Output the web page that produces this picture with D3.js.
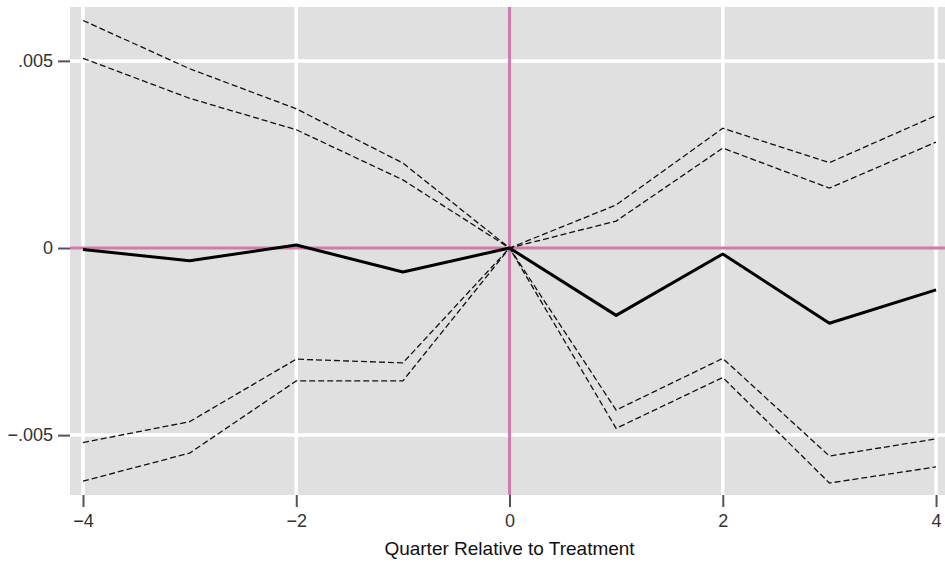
<!DOCTYPE html>
<html>
<head>
<meta charset="utf-8">
<script src="https://cdn.jsdelivr.net/npm/d3@7"></script>
<style>
    body { margin: 0; background: #fff; }
    svg { display: block; font-family: "Liberation Sans", Arial, sans-serif; }
</style>
</head>
<body>
<div id="chart"></div>
<script>
// Quarters relative to treatment
const quarters = [-4, -3, -2, -1, 0, 1, 2, 3, 4];

// Point estimate
const estimate = [-0.00004, -0.00034, 0.00008, -0.00064, 0, -0.0018, -0.00016, -0.00201, -0.00112];

// Confidence bands (outer and inner)
const upperOuter = [0.00608, 0.00479, 0.00372, 0.00227, 0, 0.00115, 0.0032, 0.00228, 0.00354];
const upperInner = [0.00507, 0.0040, 0.00316, 0.00182, 0, 0.00072, 0.00267, 0.0016, 0.00283];
const lowerInner = [-0.0052, -0.00464, -0.00297, -0.00307, 0, -0.00433, -0.00295, -0.00556, -0.0051];
const lowerOuter = [-0.00623, -0.00548, -0.00355, -0.00355, 0, -0.00482, -0.00346, -0.00628, -0.00585];

// Axis ticks
const xTicks = [-4, -2, 0, 2, 4];
const yTicks = [-0.005, 0, 0.005];
const yTickLabels = ['\u2212.005', '0', '.005'];

const width = 945;
const height = 563;
const margin = { top: 7, right: 0, bottom: 68, left: 70 };

const svg = d3.select('#chart')
    .append('svg')
    .attr('width', width)
    .attr('height', height);

const x = d3.scaleLinear()
    .domain([-4.122, 4.084])
    .range([margin.left, width - margin.right]);

const y = d3.scaleLinear()
    .domain([-0.0066, 0.00644])
    .range([height - margin.bottom, margin.top]);

// Plot background
svg.append('rect')
    .attr('x', margin.left)
    .attr('y', margin.top)
    .attr('width', width - margin.left - margin.right)
    .attr('height', height - margin.top - margin.bottom)
    .attr('fill', '#e0e0e0');

// Grid lines
const grid = svg.append('g')
    .attr('stroke', '#fff')
    .attr('stroke-width', 3.5);

grid.selectAll('.vgrid')
    .data(xTicks.filter(d => d !== 0))
    .join('line')
    .attr('x1', d => x(d))
    .attr('x2', d => x(d))
    .attr('y1', margin.top)
    .attr('y2', height - margin.bottom);

grid.selectAll('.hgrid')
    .data(yTicks.filter(d => d !== 0))
    .join('line')
    .attr('x1', margin.left)
    .attr('x2', width - margin.right)
    .attr('y1', d => y(d))
    .attr('y2', d => y(d));

// Zero reference lines
svg.append('line')
    .attr('x1', x(0)).attr('x2', x(0))
    .attr('y1', margin.top).attr('y2', height - margin.bottom)
    .attr('stroke', '#cf7aab')
    .attr('stroke-width', 3);

svg.append('line')
    .attr('x1', margin.left).attr('x2', width - margin.right)
    .attr('y1', y(0)).attr('y2', y(0))
    .attr('stroke', '#cf7aab')
    .attr('stroke-width', 3);

// Axes
const xAxis = svg.append('g')
    .attr('transform', `translate(0,${height - margin.bottom})`)
    .call(d3.axisBottom(x)
        .tickValues(xTicks)
        .tickSize(12)
        .tickPadding(7)
        .tickFormat(d => d < 0 ? '\u2212' + Math.abs(d) : d));

const yAxis = svg.append('g')
    .attr('transform', `translate(${margin.left},0)`)
    .call(d3.axisLeft(y)
        .tickValues(yTicks)
        .tickSize(12)
        .tickPadding(5)
        .tickFormat((d, i) => yTickLabels[i]));

[xAxis, yAxis].forEach(ax => {
    ax.select('.domain').remove();
    ax.selectAll('.tick line').attr('stroke', '#555').attr('stroke-width', 2);
    ax.selectAll('.tick text')
        .attr('fill', '#333')
        .style('font-size', '18px')
        .style('font-family', '"Liberation Sans", Arial, sans-serif');
});

// Axis title
svg.append('text')
    .attr('x', x(0))
    .attr('y', 555)
    .attr('text-anchor', 'middle')
    .attr('fill', '#111')
    .style('font-size', '19px')
    .text('Quarter Relative to Treatment');

// Series lines
const line = d3.line()
    .x((d, i) => x(quarters[i]))
    .y(d => y(d));

const bands = [upperOuter, upperInner, lowerInner, lowerOuter];

svg.append('g')
    .selectAll('path')
    .data(bands)
    .join('path')
    .attr('d', line)
    .attr('fill', 'none')
    .attr('stroke', '#111')
    .attr('stroke-width', 1.3)
    .attr('stroke-dasharray', '6,3');

svg.append('path')
    .datum(estimate)
    .attr('d', line)
    .attr('fill', 'none')
    .attr('stroke', '#000')
    .attr('stroke-width', 3)
    .attr('stroke-linejoin', 'round');
</script>
</body>
</html>
